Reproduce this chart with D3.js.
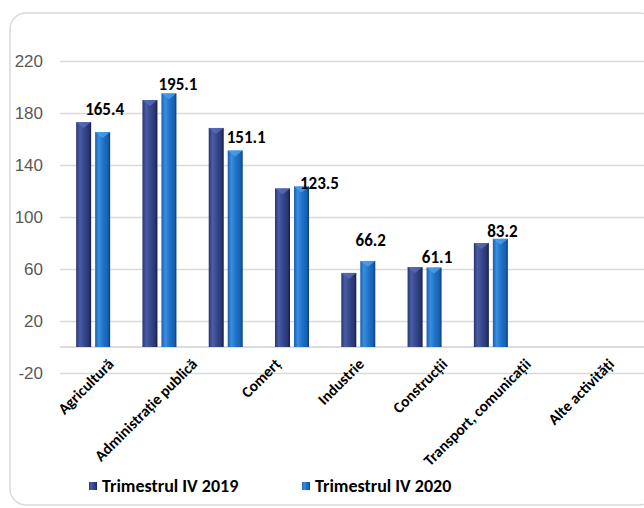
<!DOCTYPE html>
<html>
<head>
<meta charset="utf-8">
<script src="https://cdn.jsdelivr.net/npm/d3@7"></script>
<style>
  body { margin: 0; background: #fff; }
  svg { display: block; font-family: Calibri, Carlito, 'Liberation Sans Narrow', 'Liberation Sans', sans-serif; }
</style>
</head>
<body>
<script>
(function () {

    'use strict'

    // chart data
    const categories = ['Agricultură', 'Administrație publică', 'Comerț', 'Industrie',
        'Construcții', 'Transport,  comunicații', 'Alte activități']
    const seriesNames = ['Trimestrul IV 2019', 'Trimestrul IV 2020']
    const values2019 = [173, 190, 168.5, 122, 57, 61.5, 80]
    const values2020 = [165.4, 195.1, 151.1, 123.5, 66.2, 61.1, 83.2]
    const yTicks = [-20, 20, 60, 100, 140, 180, 220]

    // the value labels were dragged by hand in the original, keep those nudges (px)
    const labelDx = [2, 9, 11, 18, 3, 3, 2]
    const labelDy = [-17, -3, -8, 3, -15, -5, -2]

    const width = 644, height = 508
    const plot = { left: 60, right: 644, barsRight: 524, top: 61, bottom: 373 }

    const svg = d3.select('body').append('svg')
        .attr('width', width)
        .attr('height', height)

    const defs = svg.append('defs')

    // cylinder-ish shading for the bars
    const shades = [
        ['#4a5ca6', '#36478c', '#28366f', '#141c48'],
        ['#3a8ee0', '#1f72c8', '#1760b0', '#0c3c78']
    ]
    shades.forEach((s, i) => {
        const g = defs.append('linearGradient')
            .attr('id', 'grad' + i)
            .attr('x1', 0).attr('x2', 1).attr('y1', 0).attr('y2', 0)
        g.append('stop').attr('offset', '0%').attr('stop-color', s[2])
        g.append('stop').attr('offset', '25%').attr('stop-color', s[0])
        g.append('stop').attr('offset', '55%').attr('stop-color', s[1])
        g.append('stop').attr('offset', '85%').attr('stop-color', s[2])
        g.append('stop').attr('offset', '100%').attr('stop-color', s[3])
    })

    // outer frame
    svg.append('rect')
        .attr('x', 10).attr('y', 13)
        .attr('width', 645).attr('height', 492)
        .attr('rx', 16)
        .attr('fill', 'none')
        .attr('stroke', '#d9d9d9')
        .attr('stroke-width', 1.5)

    const yScale = d3.scaleLinear()
        .domain([-20, 220])
        .range([plot.bottom, plot.top])

    const x0 = d3.scaleBand()
        .domain(categories)
        .range([plot.left, plot.barsRight])
        .paddingInner(0.487)
        .paddingOuter(0.2435)

    const x1 = d3.scaleBand()
        .domain(seriesNames)
        .range([0, x0.bandwidth()])
        .paddingInner(0.21)

    const xLabel = d3.scalePoint()
        .domain(categories)
        .range([plot.left, plot.right])
        .padding(0.5)

    // gridlines + y labels
    const yAxis = svg.append('g')
        .attr('class', 'axes')
        .attr('transform', 'translate(' + plot.left + ',0)')
        .call(d3.axisLeft(yScale)
            .tickValues(yTicks)
            .tickFormat(d => String(d))
            .tickSize(-(plot.right - plot.left))
            .tickPadding(17))
    yAxis.select('.domain').remove()
    yAxis.selectAll('line')
        .attr('stroke', '#d9d9d9')
        .attr('stroke-width', 1.5)
    yAxis.selectAll('text')
        .attr('fill', '#595959')
        .style('font-size', '17px')
        .style('font-family', "'Liberation Sans', sans-serif")

    // zero line
    svg.append('line')
        .attr('x1', plot.left).attr('x2', plot.right)
        .attr('y1', yScale(0)).attr('y2', yScale(0))
        .attr('stroke', '#d0d0d0')
        .attr('stroke-width', 1.5)

    const rows = categories.map((c, i) => ({ cat: c, i: i, vals: [values2019[i], values2020[i]] }))

    const groups = svg.selectAll('.grp')
        .data(rows)
        .enter()
        .append('g')
        .attr('class', 'grp')
        .attr('transform', d => 'translate(' + x0(d.cat) + ',0)')

    groups.selectAll('rect')
        .data(d => d.vals.map((v, j) => ({ name: seriesNames[j], v: v, j: j })))
        .enter()
        .append('rect')
        .attr('x', d => x1(d.name))
        .attr('y', d => yScale(d.v))
        .attr('width', x1.bandwidth())
        .attr('height', d => yScale(0) - yScale(d.v))
        .attr('fill', d => 'url(#grad' + d.j + ')')

    // small pointed highlight on the bar tops
    groups.selectAll('.cap')
        .data(d => d.vals.map((v, j) => ({ name: seriesNames[j], v: v, j: j })))
        .enter()
        .append('path')
        .attr('class', 'cap')
        .attr('d', d => {
            const x = x1(d.name), w = x1.bandwidth(), y = yScale(d.v)
            return 'M' + x + ',' + y + 'L' + (x + w) + ',' + y + 'L' + (x + w / 2) + ',' + (y + 6) + 'Z'
        })
        .attr('fill', d => d.j === 0 ? '#5a6cb8' : '#4aa0ee')
        .attr('opacity', 0.8)

    // value labels on the 2020 bars
    svg.selectAll('.val')
        .data(rows)
        .enter()
        .append('text')
        .attr('class', 'val')
        .attr('x', d => x0(d.cat) + x1(seriesNames[1]) + x1.bandwidth() / 2 + labelDx[d.i])
        .attr('y', d => yScale(d.vals[1]) + labelDy[d.i])
        .attr('text-anchor', 'middle')
        .style('font-size', '17px')
        .style('font-weight', 'bold')
        .attr('fill', '#000')
        .text(d => d3.format('.1f')(d.vals[1]))

    // rotated category labels
    svg.selectAll('.cat')
        .data(categories)
        .enter()
        .append('text')
        .attr('class', 'cat')
        .attr('transform', d => 'translate(' + (xLabel(d) + 13) + ',' + 365 + ') rotate(-45)')
        .attr('text-anchor', 'end')
        .style('font-size', '15.5px')
        .style('font-weight', 'bold')
        .attr('fill', '#000')
        .text(d => d)

    // legend
    const legendX = [89, 302]
    const legend = svg.selectAll('.leg')
        .data(seriesNames)
        .enter()
        .append('g')
        .attr('class', 'leg')
        .attr('transform', (d, i) => 'translate(' + legendX[i] + ',482)')
    legend.append('rect')
        .attr('width', 8).attr('height', 8)
        .attr('fill', (d, i) => 'url(#grad' + i + ')')
    legend.append('text')
        .attr('x', 13)
        .attr('y', 10)
        .style('font-size', '18px')
        .style('font-weight', 'bold')
        .attr('fill', '#000')
        .text(d => d)

})()
</script>
</body>
</html>
